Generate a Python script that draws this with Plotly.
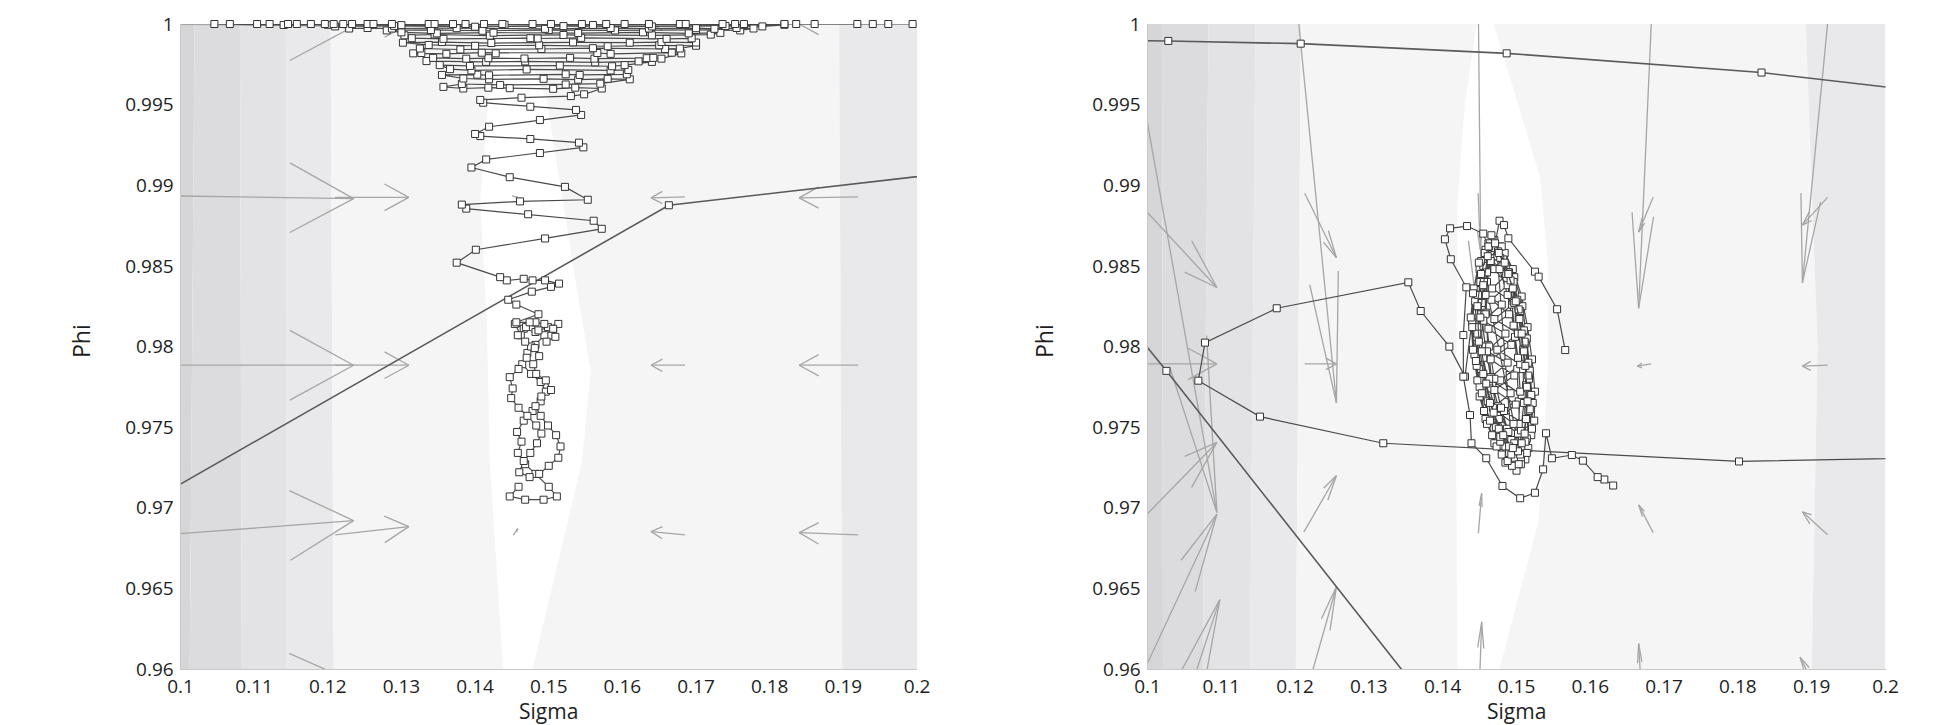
import plotly.graph_objects as go

# ---------------- axes / ticks ----------------
X_TICKS = [0.1, 0.11, 0.12, 0.13, 0.14, 0.15, 0.16, 0.17, 0.18, 0.19, 0.2]
X_TICK_TEXT = ["0.1", "0.11", "0.12", "0.13", "0.14", "0.15", "0.16", "0.17", "0.18", "0.19", "0.2"]
Y_TICKS = [0.96, 0.965, 0.97, 0.975, 0.98, 0.985, 0.99, 0.995, 1.0]
Y_TICK_TEXT = ["0.96", "0.965", "0.97", "0.975", "0.98", "0.985", "0.99", "0.995", "1"]
X_TITLE = "Sigma"
Y_TITLE = "Phi"

# ---------------- background bands (sigma of each boundary at phi levels) ----------------
BAND_PHI = [0.96, 0.98, 1.0]
LEFT_BAND_EDGES = [
    [0.1, 0.1, 0.1],
    [0.10125, 0.10160, 0.10191],
    [0.10832, 0.10820, 0.10807],
    [0.11439, 0.11435, 0.11431],
    [0.12080, 0.12060, 0.12038],
    [0.18985, 0.18965, 0.18943],
    [0.2, 0.2, 0.2],
]
RIGHT_BAND_EDGES = [
    [0.1, 0.1, 0.1],
    [0.10210, 0.10200, 0.10197],
    [0.10750, 0.10790, 0.10827],
    [0.11390, 0.11430, 0.11463],
    [0.12010, 0.12050, 0.12080],
    [0.19000, 0.19080, 0.18920],
    [0.2, 0.2, 0.2],
]
BAND_COLORS = ["#d6d6d9", "#dcdcdf", "#e3e3e5", "#e9e9eb", "#f5f5f5", "#e9e9eb"]

LEFT_WHITE_SIGMA = [0.1438, 0.1420, 0.1416, 0.1407, 0.1418, 0.1425, 0.1455, 0.1497, 0.1519, 0.1533, 0.1557, 0.1545, 0.1478]
LEFT_WHITE_PHI = [0.9600, 0.9728, 0.9814, 0.9891, 0.9953, 1.0000, 1.0000, 0.9953, 0.9891, 0.9850, 0.9785, 0.9728, 0.9600]
RIGHT_WHITE_SIGMA = [0.1420, 0.1418, 0.1420, 0.1430, 0.1446, 0.1469, 0.1532, 0.1543, 0.1543, 0.1530, 0.1477]
RIGHT_WHITE_PHI = [0.9600, 0.9750, 0.9890, 0.9950, 1.0000, 1.0000, 0.9905, 0.9850, 0.9790, 0.9692, 0.9600]

# ---------------- vector field arrows (tail sigma, tail phi, head sigma, head phi) ----------------
LEFT_ARROWS = [
    (0.0973, 1.00000, 0.1235, 0.99985),
    (0.1210, 1.00000, 0.1310, 1.00000),
    (0.1685, 1.00000, 0.1639, 1.00000),
    (0.1920, 1.00000, 0.1840, 1.00000),
    (0.0973, 0.98935, 0.1235, 0.98917),
    (0.1210, 0.98925, 0.1310, 0.98925),
    (0.1450, 0.98935, 0.1458, 0.98922),
    (0.1685, 0.98928, 0.1639, 0.98922),
    (0.1920, 0.98928, 0.1840, 0.98922),
    (0.0973, 0.97884, 0.1235, 0.97884),
    (0.1210, 0.97884, 0.1310, 0.97884),
    (0.1455, 0.97884, 0.1457, 0.97884),
    (0.1685, 0.97884, 0.1639, 0.97884),
    (0.1920, 0.97884, 0.1840, 0.97884),
    (0.0973, 0.96830, 0.1235, 0.96920),
    (0.1210, 0.96832, 0.1310, 0.96883),
    (0.1452, 0.96830, 0.1458, 0.96870),
    (0.1685, 0.96832, 0.1639, 0.96852),
    (0.1920, 0.96832, 0.1840, 0.96846),
    (0.0973, 0.95800, 0.1235, 0.95920),
    (0.1210, 0.95800, 0.1310, 0.95870),
    (0.1685, 0.95800, 0.1639, 0.95830),
    (0.1920, 0.95800, 0.1840, 0.95820),
]
RIGHT_ARROWS = [
    (0.0976, 1.00000, 0.1094, 0.96970),
    (0.0976, 0.98950, 0.1094, 0.98366),
    (0.0976, 0.97892, 0.1094, 0.97892),
    (0.0976, 0.96850, 0.1094, 0.97405),
    (0.0976, 0.95800, 0.1094, 0.96960),
    (0.0977, 0.94750, 0.1098, 0.96430),
    (0.1205, 1.00000, 0.1256, 0.97650),
    (0.1213, 0.98950, 0.1256, 0.98550),
    (0.1213, 0.97892, 0.1256, 0.97892),
    (0.1212, 0.96850, 0.1256, 0.97200),
    (0.1212, 0.95800, 0.1256, 0.96510),
    (0.14485, 1.00000, 0.14528, 0.98000),
    (0.14480, 0.98950, 0.14510, 0.98600),
    (0.14500, 0.97890, 0.14510, 0.97900),
    (0.14483, 0.96841, 0.14528, 0.97090),
    (0.14490, 0.95800, 0.14528, 0.96293),
    (0.16826, 1.00000, 0.16655, 0.98237),
    (0.16852, 0.98925, 0.16655, 0.98710),
    (0.16826, 0.97892, 0.16638, 0.97878),
    (0.16852, 0.96846, 0.16655, 0.97018),
    (0.16700, 0.95800, 0.16655, 0.96158),
    (0.19215, 1.00000, 0.18874, 0.98394),
    (0.19215, 0.98925, 0.18874, 0.98753),
    (0.19215, 0.97884, 0.18874, 0.97878),
    (0.19215, 0.96832, 0.18874, 0.96975),
    (0.19150, 0.95800, 0.18841, 0.96074),
]

# ---------------- straight trajectories ----------------
LEFT_LINE = [(0.0700, 0.96365), (0.16631, 0.98876), (0.2300, 0.99212)]
RIGHT_LINE = [(0.0915, 0.98471), (0.10256, 0.97849), (0.1404, 0.95650)]
RIGHT_TOP = [(0.0880, 0.99900), (0.10282, 0.99895), (0.12076, 0.99878),
             (0.14867, 0.99818), (0.18320, 0.99699), (0.2150, 0.99530)]

# ---------------- left panel trajectory ----------------
LEFT_CLUSTER = [
    (0.1459, 0.9713), (0.1447, 0.9707), (0.1468, 0.9705), (0.1493, 0.9705), (0.1511, 0.9707), (0.1500, 0.9713),
    (0.1482, 0.9721), (0.1468, 0.9727), (0.1458, 0.9734), (0.1463, 0.9741), (0.1457, 0.9747), (0.1466, 0.9754),
    (0.1478, 0.9760), (0.1489, 0.9766), (0.1496, 0.9772), (0.1489, 0.9778), (0.1476, 0.9783), (0.1464, 0.9789),
    (0.1471, 0.9796), (0.1482, 0.9801), (0.1494, 0.9807), (0.1506, 0.9811), (0.1513, 0.9814), (0.1499, 0.9812),
    (0.1482, 0.9809), (0.1466, 0.9811), (0.1454, 0.9814), (0.1462, 0.9807), (0.1476, 0.9800), (0.1470, 0.9793),
    (0.1459, 0.9786), (0.1447, 0.9781), (0.1451, 0.9774), (0.1449, 0.9768), (0.1459, 0.9762), (0.1471, 0.9757),
    (0.1483, 0.9751), (0.1490, 0.9746), (0.1484, 0.9740), (0.1475, 0.9734), (0.1466, 0.9729), (0.1460, 0.9722),
    (0.1474, 0.9719), (0.1487, 0.9721), (0.1500, 0.9726), (0.1513, 0.9731), (0.1516, 0.9738), (0.1510, 0.9745),
    (0.1499, 0.9751), (0.1489, 0.9757), (0.1482, 0.9763), (0.1490, 0.9769), (0.1503, 0.9773), (0.1496, 0.9779),
    (0.1483, 0.9783), (0.1479, 0.9789), (0.1487, 0.9794), (0.1481, 0.9799), (0.1468, 0.9803), (0.1458, 0.9807),
    (0.1469, 0.9812), (0.1482, 0.9815), (0.1494, 0.9814), (0.1506, 0.9811), (0.1509, 0.9806), (0.1497, 0.9803),
    (0.1486, 0.9810), (0.1474, 0.9815), (0.1456, 0.9815),
]
LEFT_ZIGZAG = [
    (0.1486, 0.9820), (0.1456, 0.9826), (0.1445, 0.9829), (0.1477, 0.9834), (0.1503, 0.9837), (0.1514, 0.9839),
    (0.1495, 0.9841), (0.1478, 0.9841), (0.1466, 0.9842), (0.1443, 0.9841), (0.1434, 0.9843), (0.1375, 0.9852),
    (0.1401, 0.9860), (0.1495, 0.9867), (0.1572, 0.9873), (0.1561, 0.9878), (0.1472, 0.9882), (0.1388, 0.98855),
    (0.1382, 0.9888), (0.1461, 0.9890), (0.1553, 0.9891), (0.1522, 0.9899), (0.1447, 0.9905), (0.1395, 0.9911),
    (0.1415, 0.9916), (0.1488, 0.9920), (0.1547, 0.99235), (0.1541, 0.99264), (0.1475, 0.99287), (0.1407, 0.99305),
    (0.1400, 0.99318), (0.1419, 0.99363), (0.1488, 0.99405), (0.1544, 0.99436), (0.1537, 0.99467), (0.1475, 0.99487),
    (0.1411, 0.99512), (0.1407, 0.99529), (0.1463, 0.99543), (0.1530, 0.99553), (0.1548, 0.99564),
]
LEFT_FUNNEL = [
    (0.1572, 0.99600), (0.1536, 0.99605), (0.1506, 0.99598), (0.1447, 0.99602), (0.1418, 0.99605), (0.1384, 0.99600), (0.1357, 0.99610),
    (0.1382, 0.99628), (0.1434, 0.99622), (0.1523, 0.99625), (0.1570, 0.99630),
    (0.1610, 0.99657), (0.1580, 0.99660), (0.1540, 0.99655), (0.1493, 0.99660), (0.1419, 0.99657), (0.1384, 0.99662),
    (0.1355, 0.99684), (0.1403, 0.99686), (0.1419, 0.99682), (0.1523, 0.99688), (0.1542, 0.99684), (0.1606, 0.99688),
    (0.1608, 0.99715), (0.1584, 0.99712), (0.1470, 0.99718), (0.1395, 0.99712), (0.1366, 0.99720),
    (0.1352, 0.99745), (0.1393, 0.99740), (0.1515, 0.99742), (0.1586, 0.99738), (0.1603, 0.99745),
    (0.1640, 0.99765), (0.1622, 0.99768), (0.1563, 0.99762), (0.1468, 0.99768), (0.1415, 0.99765), (0.1334, 0.99770),
    (0.1343, 0.99790), (0.1388, 0.99785), (0.1418, 0.99788), (0.1467, 0.99786), (0.1529, 0.99790), (0.1562, 0.99785),
    (0.1633, 0.99788), (0.1642, 0.99790), (0.1653, 0.99785),
    (0.1680, 0.99818), (0.1667, 0.99822), (0.1584, 0.99815), (0.1566, 0.99820), (0.1428, 0.99818), (0.1409, 0.99822),
    (0.1361, 0.99815), (0.1327, 0.99820), (0.1316, 0.99818),
    (0.1325, 0.99848), (0.1380, 0.99842), (0.1490, 0.99845), (0.1560, 0.99850), (0.1658, 0.99845), (0.1678, 0.99848),
    (0.1700, 0.99865), (0.1650, 0.99868), (0.1580, 0.99862), (0.1487, 0.99868), (0.1400, 0.99865), (0.1337, 0.99870),
    (0.1302, 0.99884), (0.1355, 0.99888), (0.1422, 0.99882), (0.1533, 0.99886), (0.1610, 0.99884), (0.1653, 0.99888), (0.1700, 0.99885),
    (0.1694, 0.99911), (0.1660, 0.99908), (0.1544, 0.99914), (0.1485, 0.99910), (0.1475, 0.99912), (0.1357, 0.99908), (0.1314, 0.99912),
    (0.1304, 0.99930), (0.1345, 0.99935), (0.1420, 0.99928), (0.1520, 0.99932), (0.1640, 0.99930), (0.1720, 0.99934),
    (0.1733, 0.99945), (0.1690, 0.99942), (0.1628, 0.99948), (0.1540, 0.99944), (0.1425, 0.99946), (0.1348, 0.99942), (0.1300, 0.99948),
    (0.1280, 0.99960), (0.1340, 0.99963), (0.1410, 0.99958), (0.1500, 0.99962), (0.1590, 0.99960), (0.1700, 0.99963), (0.1760, 0.99960),
    (0.1778, 0.99972), (0.1755, 0.99975), (0.1725, 0.99970), (0.1700, 0.99974), (0.1636, 0.99972), (0.1584, 0.99975),
    (0.1495, 0.99970), (0.1375, 0.99974), (0.1287, 0.99972), (0.1254, 0.99975), (0.1229, 0.99972),
    (0.1210, 0.99985), (0.1290, 0.99988), (0.1400, 0.99983), (0.1520, 0.99987), (0.1640, 0.99985), (0.1740, 0.99988), (0.1790, 0.99985),
    (0.1820, 0.99995), (0.1765, 0.99993), (0.1680, 0.99996), (0.1560, 0.99994), (0.1440, 0.99996), (0.1300, 0.99993),
    (0.1200, 0.99995), (0.1140, 0.99994),
    (0.1046, 1.0), (0.1067, 1.0), (0.1104, 1.0), (0.1121, 1.0), (0.1146, 1.0), (0.1158, 1.0), (0.1177, 1.0),
    (0.1196, 1.0), (0.1208, 1.0), (0.1221, 1.0), (0.1233, 1.0), (0.1254, 1.0), (0.1262, 1.0), (0.1287, 1.0),
    (0.1337, 1.0), (0.1345, 1.0), (0.1370, 1.0), (0.1387, 1.0), (0.1412, 1.0), (0.1437, 1.0), (0.1478, 1.0),
    (0.1503, 1.0), (0.1545, 1.0), (0.1578, 1.0), (0.1603, 1.0), (0.1636, 1.0), (0.1678, 1.0), (0.1686, 1.0),
    (0.1736, 1.0), (0.1753, 1.0), (0.1765, 1.0), (0.1820, 1.0), (0.1836, 1.0), (0.1861, 1.0), (0.1919, 1.0),
    (0.1940, 1.0), (0.1961, 1.0), (0.1994, 1.0),
]

# ---------------- right panel trajectories ----------------
RIGHT_LOOP = [
    (0.2120, 0.97315), (0.18015, 0.97287), (0.13195, 0.97400), (0.11524, 0.97565), (0.10689, 0.97788),
    (0.10779, 0.98024), (0.11751, 0.98237), (0.13534, 0.98398), (0.13702, 0.98220), (0.14090, 0.97999),
    (0.14302, 0.97813),
    (0.1445, 0.9835), (0.1440, 0.9815), (0.1443, 0.9795), (0.1450, 0.9775), (0.1458, 0.9755), (0.1470, 0.9740),
    (0.1485, 0.9728), (0.1500, 0.9723), (0.1512, 0.9730), (0.1520, 0.9745), (0.1522, 0.9765), (0.1518, 0.9785),
    (0.1514, 0.9805), (0.1508, 0.9825), (0.1497, 0.9843), (0.1484, 0.9858), (0.1470, 0.9866), (0.1458, 0.9860),
    (0.1450, 0.9848), (0.1444, 0.9828), (0.1446, 0.9806), (0.1452, 0.9786), (0.1461, 0.9766), (0.1472, 0.9750),
    (0.1486, 0.9737), (0.1498, 0.9731), (0.1508, 0.9738), (0.1514, 0.9755), (0.1513, 0.9776), (0.1509, 0.9798),
    (0.1503, 0.9818), (0.1494, 0.9836), (0.1481, 0.9851), (0.1467, 0.9857),
    (0.1478, 0.9862), (0.1488, 0.9845), (0.1494, 0.9826), (0.1498, 0.9806), (0.1501, 0.9786), (0.1503, 0.9766),
    (0.1504, 0.9748), (0.1500, 0.9735), (0.1490, 0.9734), (0.1480, 0.9745), (0.1472, 0.9762), (0.1466, 0.9781),
    (0.1461, 0.9801), (0.1459, 0.9821), (0.1460, 0.9840), (0.1466, 0.9855),
    (0.1455, 0.9850), (0.1448, 0.9832), (0.1449, 0.9812), (0.1455, 0.9793), (0.1463, 0.9774), (0.1474, 0.9757),
    (0.1488, 0.9743), (0.1500, 0.9736), (0.1510, 0.9744), (0.1516, 0.9760), (0.1517, 0.9780), (0.1512, 0.9802),
    (0.1505, 0.9822), (0.1496, 0.9840), (0.1482, 0.9854), (0.1470, 0.9861),
    (0.1470, 0.9848), (0.1488, 0.9838), (0.1466, 0.9829), (0.1490, 0.9820), (0.1462, 0.9811), (0.1493, 0.9801),
    (0.1465, 0.9792), (0.1497, 0.9782), (0.1470, 0.9773), (0.1499, 0.9764), (0.1476, 0.9755), (0.1502, 0.9746),
    (0.1485, 0.9738), (0.1506, 0.9731),
    (0.1452, 0.9853), (0.1442, 0.9836), (0.1438, 0.9818), (0.1441, 0.9798), (0.1447, 0.9779), (0.1456, 0.9760),
    (0.1467, 0.9745), (0.1480, 0.9733), (0.1494, 0.9726), (0.1506, 0.9727), (0.1516, 0.9737), (0.1524, 0.9754),
    (0.1525, 0.9772), (0.1521, 0.9792), (0.1515, 0.9812), (0.1507, 0.9831), (0.1495, 0.9848), (0.1480, 0.9862),
    (0.1466, 0.9869),
    (0.1457, 0.9858), (0.1451, 0.9840), (0.1452, 0.9820), (0.1458, 0.9800), (0.1465, 0.9781), (0.1475, 0.9763),
    (0.1487, 0.9749), (0.1498, 0.9741), (0.1506, 0.9748), (0.1510, 0.9765), (0.1509, 0.9786), (0.1503, 0.9808),
    (0.1496, 0.9828), (0.1486, 0.9845), (0.1474, 0.9856),
    (0.1493, 0.9742), (0.1510, 0.9752), (0.1483, 0.9760), (0.1507, 0.9770), (0.1478, 0.9779), (0.1505, 0.9789),
    (0.1474, 0.9798), (0.1502, 0.9808), (0.1470, 0.9817), (0.1497, 0.9827), (0.1467, 0.9836), (0.1490, 0.9846),
    (0.1465, 0.9853),
    (0.1460, 0.9846), (0.1453, 0.9827), (0.1447, 0.9808), (0.1446, 0.9788), (0.1450, 0.9769), (0.1460, 0.9752),
    (0.1473, 0.9738), (0.1488, 0.9729), (0.1503, 0.9727), (0.1514, 0.9734), (0.1521, 0.9749), (0.1520, 0.9770),
    (0.1516, 0.9790), (0.1510, 0.9810), (0.1501, 0.9829), (0.1489, 0.9846), (0.1475, 0.9859), (0.1462, 0.9864),
    (0.1456, 0.9840), (0.1458, 0.9820), (0.1463, 0.9800), (0.1470, 0.9780), (0.1479, 0.9762), (0.1489, 0.9747),
    (0.1497, 0.9740), (0.1503, 0.9752), (0.1505, 0.9772), (0.1502, 0.9793), (0.1496, 0.9813), (0.1488, 0.9832),
    (0.1477, 0.9848),
    (0.1449, 0.9852), (0.1441, 0.9833), (0.1440, 0.9812), (0.1445, 0.9791), (0.1453, 0.9771), (0.1464, 0.9754),
    (0.1478, 0.9741), (0.1493, 0.9733), (0.1505, 0.9733), (0.1514, 0.9743), (0.1518, 0.9761), (0.1516, 0.9782),
    (0.1511, 0.9803), (0.1503, 0.9823), (0.1492, 0.9841), (0.1478, 0.9855), (0.1463, 0.9862),
    (0.1458, 0.9832), (0.1480, 0.9826), (0.1455, 0.9816), (0.1485, 0.9808), (0.1460, 0.9797), (0.1488, 0.9790),
    (0.1463, 0.9780), (0.1492, 0.9771), (0.1468, 0.9762), (0.1496, 0.9752), (0.1478, 0.9744), (0.1499, 0.9737),
    (0.1512, 0.9741),
]
RIGHT_TAIL = [
    (0.1631, 0.97138), (0.1619, 0.97175), (0.1610, 0.97190), (0.1590, 0.97292), (0.1575, 0.97327), (0.1548, 0.97307),
    (0.1540, 0.97462), (0.1536, 0.97238), (0.1525, 0.97093), (0.1505, 0.97059), (0.1481, 0.97135), (0.1459, 0.97307),
    (0.1439, 0.97400), (0.1437, 0.97575), (0.1428, 0.97813), (0.1428, 0.98071), (0.1432, 0.98367), (0.1411, 0.98541),
    (0.1403, 0.98665), (0.1410, 0.98733), (0.1433, 0.98747), (0.1455, 0.98700),
    (0.1462, 0.9862), (0.1452, 0.9845), (0.1447, 0.9825), (0.1449, 0.9803), (0.1455, 0.9783), (0.1464, 0.9765),
    (0.1476, 0.9749), (0.1490, 0.9738), (0.1502, 0.9735), (0.1511, 0.9746), (0.1515, 0.9766), (0.1512, 0.9788),
    (0.1507, 0.9808), (0.1499, 0.9828), (0.1489, 0.9845), (0.1476, 0.9858),
    (0.1461, 0.9856), (0.1455, 0.9838), (0.1451, 0.9818), (0.1453, 0.9797), (0.1459, 0.9777), (0.1469, 0.9759),
    (0.1482, 0.9745), (0.1495, 0.9737), (0.1507, 0.9740), (0.1513, 0.9755), (0.1514, 0.9775), (0.1510, 0.9797),
    (0.1504, 0.9817), (0.1495, 0.9836), (0.1484, 0.9852), (0.1471, 0.9864),
    (0.1477, 0.98780), (0.1483, 0.98753), (0.1489, 0.98671), (0.1525, 0.98464), (0.1530, 0.98433),
    (0.1555, 0.98231), (0.1566, 0.97978),
]

# ---------------- styling ----------------
FONT = "Open Sans"
ARROW_COLOR = "#a6a6a6"
TRAJ_COLOR = "#4a4a4a"
LINE_COLOR = "#5a5a5a"
ALPHA, BETA = 0.33, 0.25


def arrow_path(arrows):
    xs, ys = [], []
    for x0, y0, x1, y1 in arrows:
        u, v = x1 - x0, y1 - y0
        w1x, w1y = x1 - ALPHA * (u + BETA * v), y1 - ALPHA * (v - BETA * u)
        w2x, w2y = x1 - ALPHA * (u - BETA * v), y1 - ALPHA * (v + BETA * u)
        xs += [x0, x1, None, w1x, x1, w2x, None]
        ys += [y0, y1, None, w1y, y1, w2y, None]
    return xs, ys


def unzip(pairs):
    return [p[0] for p in pairs], [p[1] for p in pairs]


fig = go.Figure()


def add_panel(xa, ya, edges, white_s, white_p, arrows, lines, trajs, clip_traj):
    for i in range(len(edges) - 1):
        a, b = edges[i], edges[i + 1]
        fig.add_trace(go.Scatter(
            x=a + b[::-1], y=BAND_PHI + BAND_PHI[::-1], fill="toself",
            fillcolor=BAND_COLORS[i], line=dict(width=0), mode="lines",
            hoverinfo="skip", showlegend=False, xaxis=xa, yaxis=ya))
    fig.add_trace(go.Scatter(
        x=white_s, y=white_p, fill="toself", fillcolor="#ffffff",
        line=dict(width=0), mode="lines", hoverinfo="skip", showlegend=False,
        xaxis=xa, yaxis=ya))
    ax, ay = arrow_path(arrows)
    fig.add_trace(go.Scatter(x=ax, y=ay, mode="lines",
                             line=dict(color=ARROW_COLOR, width=1.3),
                             hoverinfo="skip", showlegend=False, xaxis=xa, yaxis=ya))
    marker = dict(symbol="square", size=7, color="white",
                  line=dict(color="#333333", width=1))
    for pts in lines:
        sx, sy = unzip(pts)
        fig.add_trace(go.Scatter(x=sx, y=sy, mode="lines+markers",
                                 line=dict(color=LINE_COLOR, width=1.6),
                                 marker=marker, cliponaxis=True,
                                 showlegend=False, xaxis=xa, yaxis=ya))
    for pts in trajs:
        sx, sy = unzip(pts)
        fig.add_trace(go.Scatter(x=sx, y=sy, mode="lines+markers",
                                 line=dict(color=TRAJ_COLOR, width=1.2),
                                 marker=marker, cliponaxis=clip_traj,
                                 showlegend=False, xaxis=xa, yaxis=ya))


add_panel("x", "y", LEFT_BAND_EDGES, LEFT_WHITE_SIGMA, LEFT_WHITE_PHI, LEFT_ARROWS,
          [LEFT_LINE], [LEFT_CLUSTER + LEFT_ZIGZAG + LEFT_FUNNEL], False)
add_panel("x2", "y2", RIGHT_BAND_EDGES, RIGHT_WHITE_SIGMA, RIGHT_WHITE_PHI, RIGHT_ARROWS,
          [RIGHT_LINE, RIGHT_TOP], [RIGHT_LOOP, RIGHT_TAIL], True)

tick_font = dict(family=FONT, size=19, color="#1e1e1e")
xcommon = dict(range=[0.1, 0.2], tickvals=X_TICKS, ticktext=X_TICK_TEXT, showgrid=False,
               zeroline=False, showline=True, linecolor="#c8c8c8", linewidth=1,
               ticks="", tickfont=tick_font, ticklabelstandoff=0, automargin=False)
ycommon = dict(range=[0.96, 1.0], tickvals=Y_TICKS, ticktext=Y_TICK_TEXT, showgrid=False,
               zeroline=False, showline=True, linecolor="#c8c8c8", linewidth=1,
               ticks="", tickfont=tick_font, ticklabelstandoff=2, automargin=False)

W, H = 1945, 725
LX0, LX1, RX0, RX1 = 180.5 / W, 917 / W, 1147.5 / W, 1885.5 / W
Y0, Y1 = 1 - 669 / H, 1 - 24 / H
title_font = dict(family=FONT, size=21, color="#1e1e1e")
ytitle_font = dict(family=FONT, size=23, color="#1e1e1e")

fig.update_layout(
    width=W, height=H, autosize=False, margin=dict(l=0, r=0, t=0, b=0, pad=0, autoexpand=False),
    paper_bgcolor="white", plot_bgcolor="white",
    xaxis=dict(domain=[LX0, LX1], anchor="y", **xcommon),
    yaxis=dict(domain=[Y0, Y1], anchor="x", **ycommon),
    xaxis2=dict(domain=[RX0, RX1], anchor="y2", **xcommon),
    yaxis2=dict(domain=[Y0, Y1], anchor="x2", **ycommon),
    showlegend=False,
    annotations=[
        dict(text=Y_TITLE, x=81 / W, y=1 - 341 / H, xref="paper", yref="paper", textangle=-90,
             xanchor="center", yanchor="middle", showarrow=False, font=ytitle_font),
        dict(text=X_TITLE, x=(LX0 + LX1) / 2, y=1 - 711 / H, xref="paper", yref="paper",
             xanchor="center", yanchor="middle", showarrow=False, font=title_font),
        dict(text=Y_TITLE, x=1044 / W, y=1 - 341 / H, xref="paper", yref="paper", textangle=-90,
             xanchor="center", yanchor="middle", showarrow=False, font=ytitle_font),
        dict(text=X_TITLE, x=(RX0 + RX1) / 2, y=1 - 711 / H, xref="paper", yref="paper",
             xanchor="center", yanchor="middle", showarrow=False, font=title_font),
    ],
)

fig.write_html("out.html", config={"displayModeBar": False, "responsive": False},
               post_script="document.body.style.margin='0';")
